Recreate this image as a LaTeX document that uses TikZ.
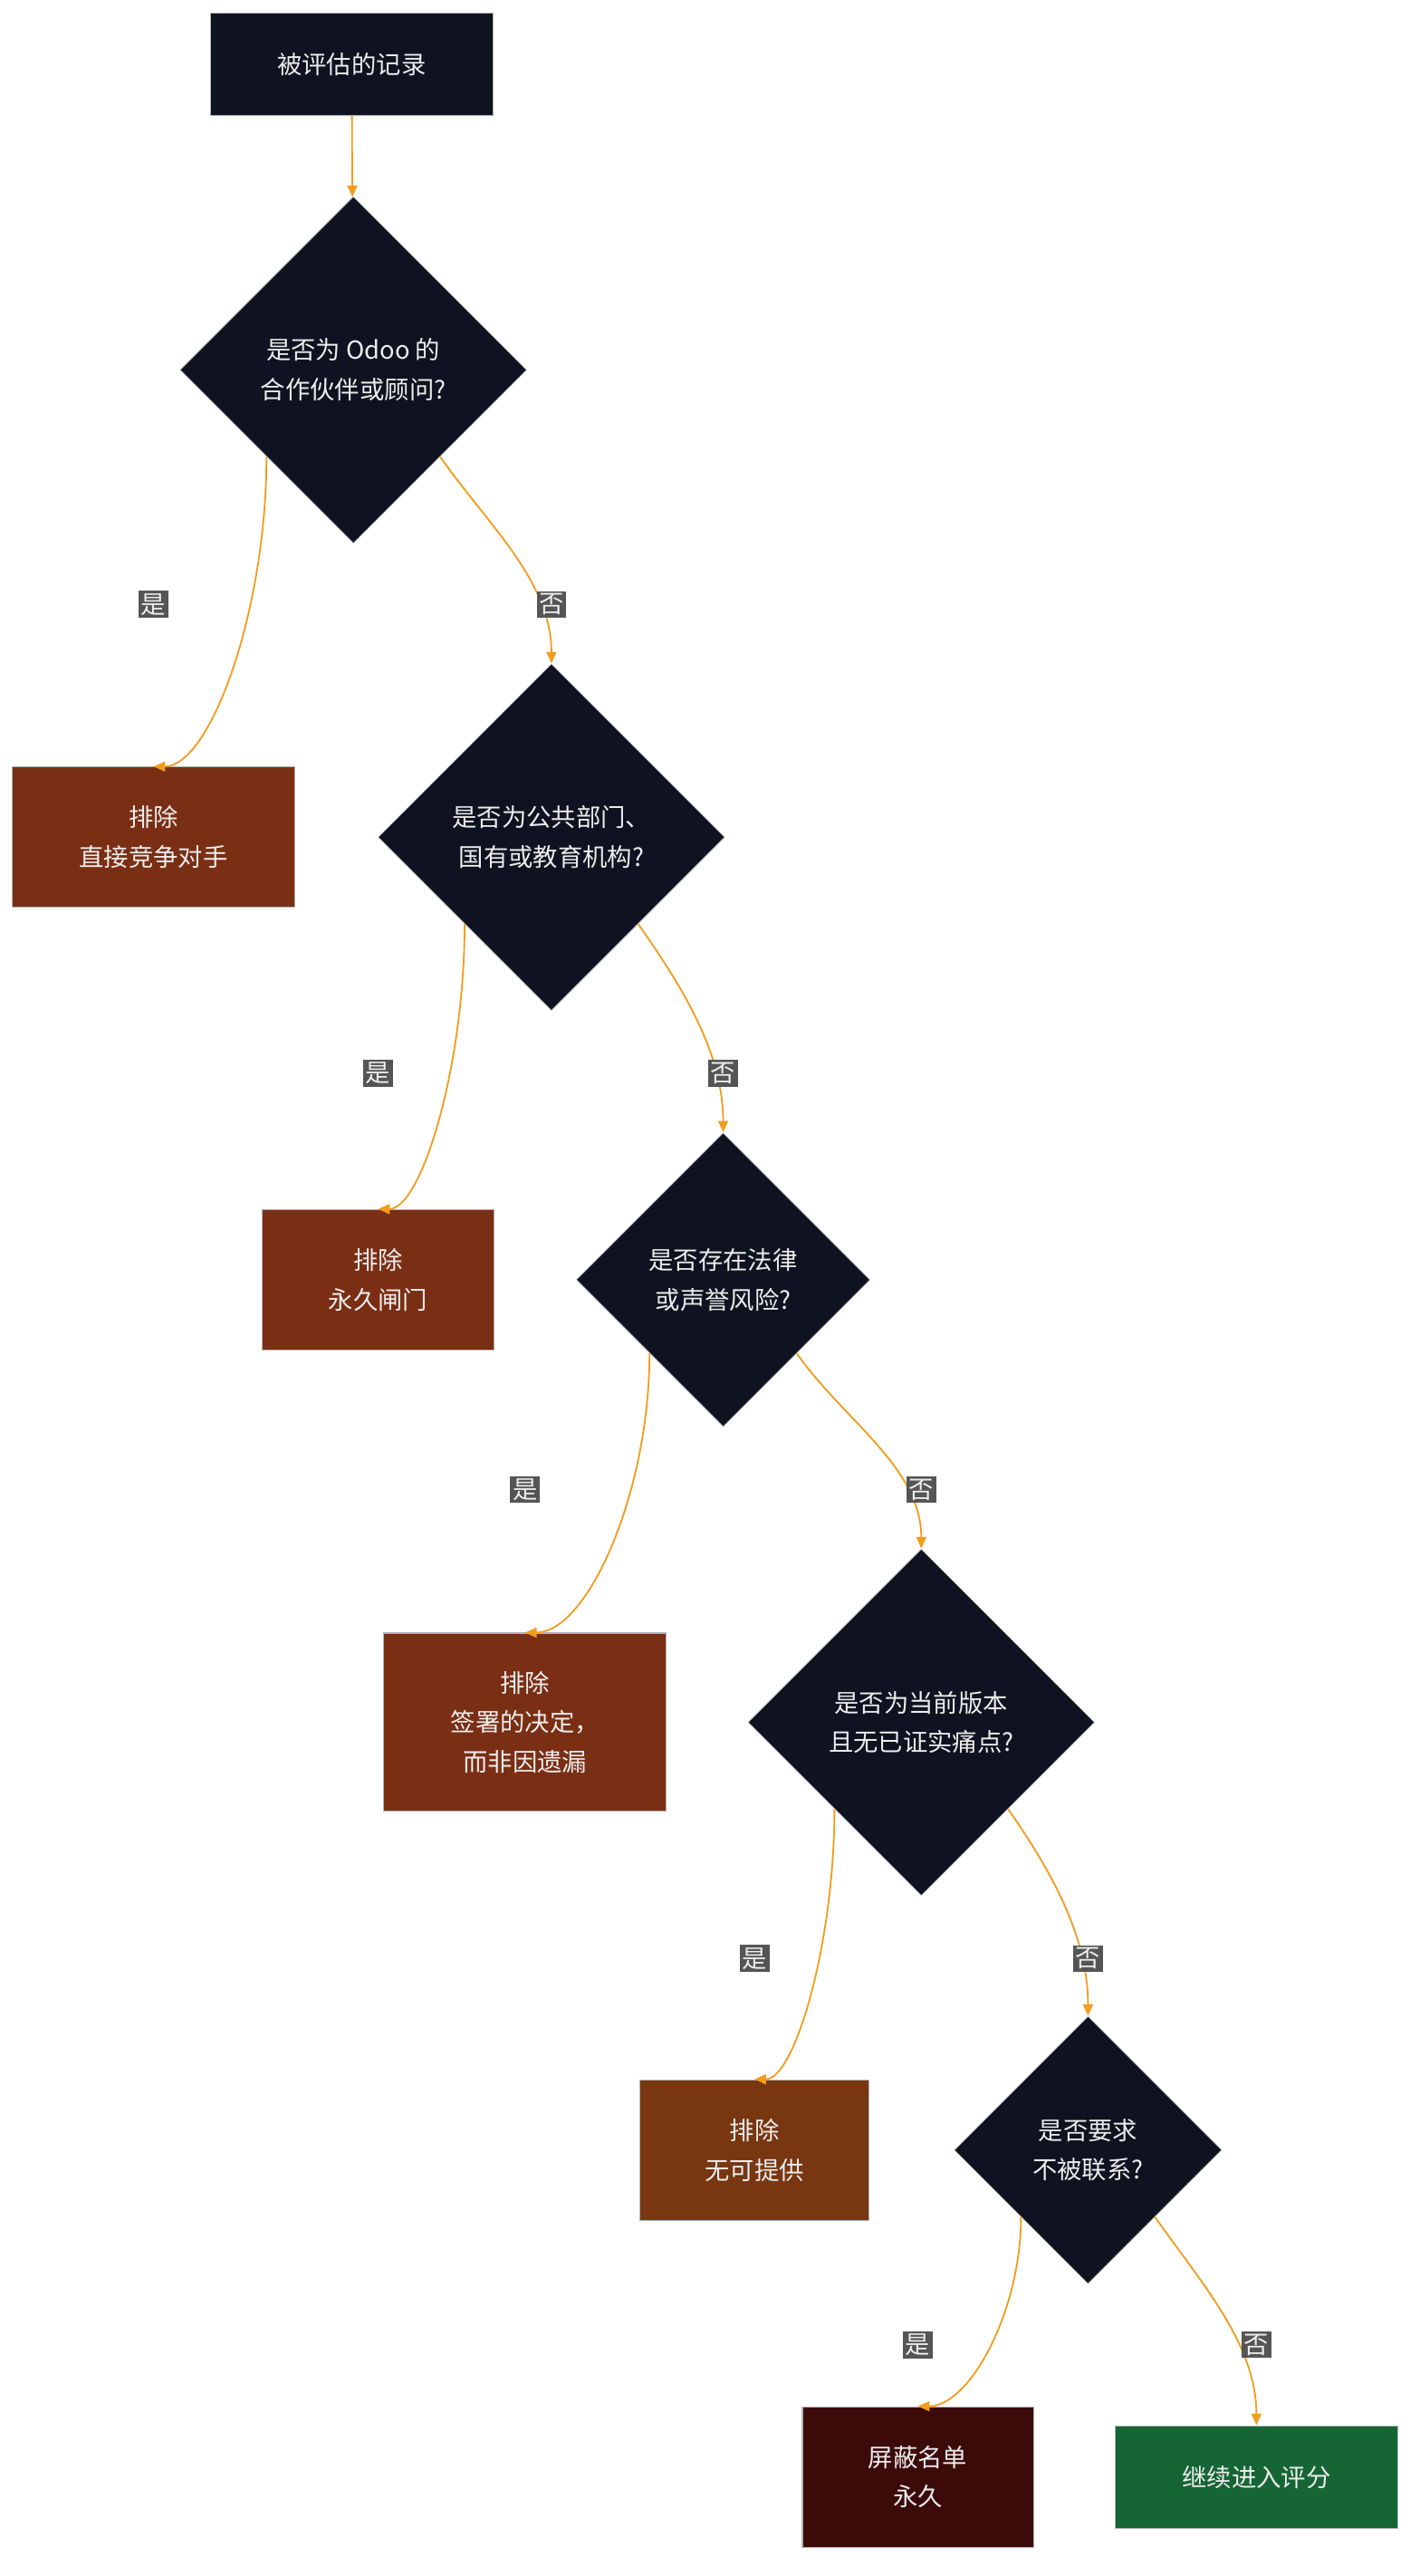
\documentclass[tikz,border=0pt]{standalone}
\usepackage{fontspec}
\setmainfont{Noto Sans CJK SC}
\usetikzlibrary{shapes.geometric,arrows.meta,calc}
\definecolor{navy}{HTML}{0F1220}
\definecolor{rust}{HTML}{7A2E14}
\definecolor{rustb}{HTML}{783611}
\definecolor{maroon}{HTML}{3D0A0A}
\definecolor{grn}{HTML}{166534}
\definecolor{edge}{HTML}{F39C1E}
\definecolor{lblg}{HTML}{555555}
\definecolor{txt}{HTML}{EDEDED}
\tikzset{
  x=1pt,y=-1pt,
  box/.style={draw=gray!60,line width=0.6pt,text=txt,align=center,font=\fontsize{15}{24}\selectfont,inner sep=0},
  dia/.style={diamond,aspect=1,fill=navy,draw=gray!40,line width=0.4pt,text=txt,align=center,font=\fontsize{15}{24}\selectfont,inner sep=0},
  arr/.style={draw=edge,line width=1pt,-{Triangle[length=7pt,width=6pt]}},
  lbl/.style={fill=lblg,text=txt,font=\fontsize{15}{16}\selectfont,inner sep=1.5pt}
}
\begin{document}
\begin{tikzpicture}
\useasboundingbox[fill=white] (0,0) rectangle (860,1560);
\node[box,fill=navy,minimum width=171,minimum height=62] (s) at (213,39) {被评估的记录};
\node[dia,minimum size=210] (d1) at (214,224) {是否为 Odoo 的\\合作伙伴或顾问?};
\node[box,fill=rust,minimum width=171,minimum height=85] (b1) at (93,507) {排除\\直接竞争对手};
\node[dia,minimum size=210] (d2) at (334,507) {是否为公共部门、\\国有或教育机构?};
\node[box,fill=rust,minimum width=140,minimum height=85] (b2) at (229,775) {排除\\永久闸门};
\node[dia,minimum size=178] (d3) at (438,775) {是否存在法律\\或声誉风险?};
\node[box,fill=rust,minimum width=171,minimum height=108] (b3) at (318,1043) {排除\\签署的决定，\\而非因遗漏};
\node[dia,minimum size=210] (d4) at (558,1043) {是否为当前版本\\且无已证实痛点?};
\node[box,fill=rustb,minimum width=139,minimum height=85] (b4) at (457,1302) {排除\\无可提供};
\node[dia,minimum size=162] (d5) at (659,1302) {是否要求\\不被联系?};
\node[box,fill=maroon,minimum width=140,minimum height=85] (b5) at (556,1500) {屏蔽名单\\永久};
\node[box,fill=grn,minimum width=171,minimum height=62] (b6) at (761,1500) {继续进入评分};

\draw[arr] (s) -- (d1);
\foreach \d/\y/\n in {d1/b1/d2,d2/b2/d3,d3/b3/d4,d4/b4/d5,d5/b5/b6}{
  \coordinate (L) at ($(\d.south)!0.5!(\d.west)$);
  \coordinate (R) at ($(\d.south)!0.5!(\d.east)$);
  \draw[arr] (L) .. controls ($(L)!0.5!(\y.north -| L)$) and ($(\y.north)!0.5!(L |- \y.north) + (0,0)$) .. (\y.north);
}
\foreach \d/\y/\n in {d1/b1/d2,d2/b2/d3,d3/b3/d4,d4/b4/d5,d5/b5/b6}{
  \coordinate (L) at ($(\d.south)!0.5!(\d.west)$);
  \coordinate (R) at ($(\d.south)!0.5!(\d.east)$);
  \draw[arr] (R) to[out=-55,in=90,looseness=0.9] (\n.north);
}
\node[lbl] (l1) at (93,366) {是};
\node[lbl] (r1) at (334,366) {否};
\node[lbl] (l2) at (229,650) {是};
\node[lbl] (r2) at (438,650) {否};
\node[lbl] (l3) at (318,902) {是};
\node[lbl] (r3) at (558,902) {否};
\node[lbl] (l4) at (457,1186) {是};
\node[lbl] (r4) at (659,1186) {否};
\node[lbl] (l5) at (556,1420) {是};
\node[lbl] (r5) at (761,1420) {否};
\end{tikzpicture}
\end{document}
